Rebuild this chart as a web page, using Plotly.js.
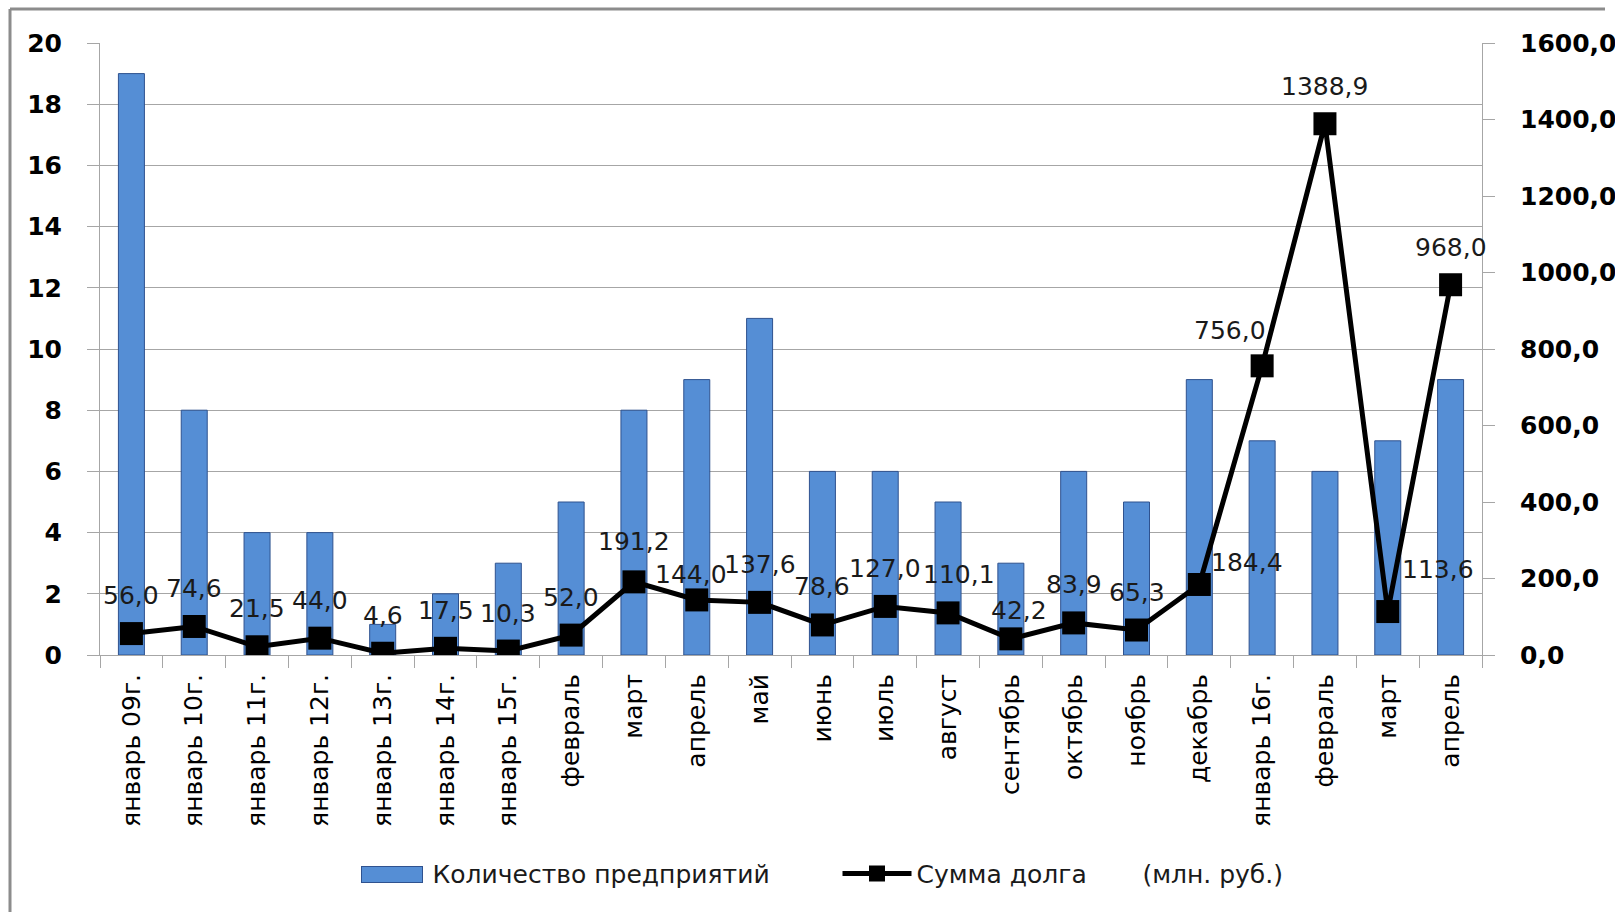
<!DOCTYPE html>
<html>
<head>
<meta charset="utf-8">
<script src="https://cdn.plot.ly/plotly-3.0.1.min.js"></script>
<style>
html,body{margin:0;padding:0;background:#fff;}
#chart{width:1615px;height:912px;}
</style>
</head>
<body>
<div id="chart"></div>
<script>
// ---- data ----
const categories = ["январь 09г.","январь 10г.","январь 11г.","январь 12г.","январь 13г.","январь 14г.","январь 15г.","февраль","март","апрель","май","июнь","июль","август","сентябрь","октябрь","ноябрь","декабрь","январь 16г.","февраль","март","апрель"];
const enterprises = [19, 8, 4, 4, 1, 2, 3, 5, 8, 9, 11, 6, 6, 5, 3, 6, 5, 9, 7, 6, 7, 9];
const debt = [56.0, 74.6, 21.5, 44.0, 4.6, 17.5, 10.3, 52.0, 191.2, 144.0, 137.6, 78.6, 127.0, 110.1, 42.2, 83.9, 65.3, 184.4, 756.0, 1388.9, 113.6, 968.0];
const seriesBarName = "Количество предприятий";
const seriesLineName = "Сумма долга\u00a0\u00a0\u00a0\u00a0\u00a0\u00a0\u00a0(млн. руб.)";

// ---- label offsets (style only, px) ----
const labelDX = [0,0,0,0,0,0,0,0,0,-6,0,0,0,11,8,0,0,48,-32,0,50,0];
const labelDY = [38,38,38,38,38,38,38,38,40,25,38,38,38,38,28,38,38,22,35,37,42,37];

const xIdx = categories.map((_, i) => i);
const FONT = "DejaVu Sans";
const GRID = "#a6a6a6";
const BAR_FILL = "#558ed5";
const BAR_LINE = "#2f528f";

// plot-area geometry in pixels (for converting frame lines to paper units)
const PL = 100, PR = 1482, PT = 43, PB = 655;
const px = v => (v - PL) / (PR - PL);
const py = v => (PB - v) / (PB - PT);

const traces = [
  {
    type: "bar",
    x: xIdx,
    y: enterprises,
    name: seriesBarName,
    marker: {color: BAR_FILL, line: {color: BAR_LINE, width: 1}},
    hoverinfo: "skip"
  },
  {
    type: "scatter",
    mode: "lines+markers",
    x: xIdx,
    y: debt,
    yaxis: "y2",
    name: seriesLineName,
    line: {color: "#000", width: 5},
    marker: {symbol: "square", size: 23, color: "#000"},
    hoverinfo: "skip"
  }
];

const annotations = debt.map((v, i) => ({
  x: xIdx[i],
  y: v,
  xref: "x",
  yref: "y2",
  text: v.toFixed(1).replace(".", ","),
  showarrow: false,
  xshift: labelDX[i],
  yshift: labelDY[i],
  font: {family: FONT, size: 25, color: "#1a1a1a"}
}));

// wide legend swatch for the bar series (drawn over the small default square)
annotations.push({
  xref: "paper", yref: "paper",
  x: px(392), y: py(874.5),
  xanchor: "center", yanchor: "middle",
  text: "\u00a0",
  showarrow: false,
  width: 60, height: 15,
  borderpad: 0,
  bgcolor: BAR_FILL,
  bordercolor: BAR_LINE,
  borderwidth: 1,
  font: {family: FONT, size: 8, color: BAR_FILL}
});

const layout = {
  width: 1615,
  height: 912,
  margin: {l: PL, r: 1615 - PR, t: PT, b: 912 - PB, pad: 0},
  paper_bgcolor: "#fff",
  plot_bgcolor: "#fff",
  separators: ", ",
  bargap: 0.586,
  showlegend: true,
  font: {family: FONT, size: 25, color: "#000"},
  xaxis: {
    range: [-0.5, 21.5],
    tickmode: "array",
    tickvals: xIdx,
    ticktext: categories,
    tickangle: -90,
    ticks: "",
    showgrid: false,
    zeroline: false,
    showline: true,
    linecolor: GRID,
    linewidth: 1,
    ticklabelstandoff: 8,
    tickfont: {family: FONT, size: 25, color: "#000"},
    minor: {tick0: -0.5, dtick: 1, ticks: "outside", ticklen: 12, tickcolor: GRID, tickwidth: 1, showgrid: false},
    automargin: false,
    fixedrange: true
  },
  yaxis: {
    range: [0, 20],
    dtick: 2,
    tick0: 0,
    showgrid: true,
    gridcolor: GRID,
    gridwidth: 1,
    zeroline: false,
    showline: true,
    linecolor: GRID,
    ticks: "outside",
    ticklen: 12,
    tickcolor: GRID,
    ticklabelstandoff: 20,
    tickfont: {family: FONT, size: 25, color: "#000", weight: "bold"},
    automargin: false,
    fixedrange: true
  },
  yaxis2: {
    overlaying: "y",
    side: "right",
    range: [0, 1600],
    dtick: 200,
    tick0: 0,
    tickformat: ".1f",
    showgrid: false,
    zeroline: false,
    showline: true,
    linecolor: GRID,
    ticks: "outside",
    ticklen: 12,
    tickcolor: GRID,
    ticklabelstandoff: 20,
    tickfont: {family: FONT, size: 25, color: "#000", weight: "bold"},
    automargin: false,
    fixedrange: true
  },
  legend: {
    orientation: "h",
    xref: "container",
    yref: "container",
    x: 353.5 / 1615,
    xanchor: "left",
    y: 0.042,
    yanchor: "middle",
    font: {family: FONT, size: 25, color: "#1a1a1a"},
    itemwidth: 69,
    entrywidth: 400,
    entrywidthmode: "pixels",
    bgcolor: "rgba(0,0,0,0)"
  },
  annotations: annotations,
  shapes: [
    // chart frame (top and left edges visible in the reference)
    {type: "line", xref: "paper", yref: "paper", x0: px(10), x1: px(10), y0: py(9), y1: py(915), line: {color: "#8c8c8c", width: 3}},
    {type: "line", xref: "paper", yref: "paper", x0: px(10), x1: px(1605), y0: py(9), y1: py(9), line: {color: "#8c8c8c", width: 3}}
  ]
};

Plotly.newPlot("chart", traces, layout, {displayModeBar: false, staticPlot: true});
</script>
</body>
</html>
